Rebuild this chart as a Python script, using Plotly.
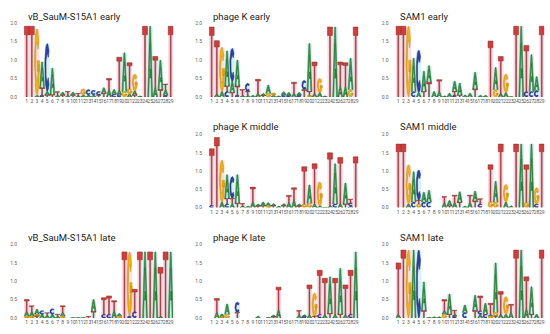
import math
import plotly.graph_objects as go

# ---------------- data (letter heights in bits, per position 1..29) ----------------
positions = list(range(1, 30))
y_ticks = [0.0, 0.5, 1.0, 1.5, 2.0]
y_tick_labels = ["0.0", "0.5", "1.0", "1.5", "2.0"]

titles = ["vB_SauM-S15A1 early", "phage K early", "SAM1 early",
          "phage K middle", "SAM1 middle",
          "vB_SauM-S15A1 late", "phage K late", "SAM1 late"]

vb_early = ["T1.92", "T1.92", "A.05 G1.8", "C.05 T.2 A.7", "T.05 A.1 C1.3", "T.06 A.72",
            "A.06 T.08", "T.05 A.08", "A.05 T.1", "T.05 A.08", "A.04 T.06",
            "A.06 G.16", "A.06 C.14", "A.06 C.12", "T.05 C.1",
            "T.1 A.15", "A.2 T.3", "C.08 A.12", "C.06 A.12 T.9", "G.15 A1.05",
            "A.08 G.15 T.7", "T.05 A.12 G.45", "A.03", "T1.92", "A1.92",
            "A.25 T.85", "T.2 A.8", "C.05 A.15 T.15", "T1.92"]

pk_early = ["T1.9", "A.08 T1.45", "A.15 G1.2", "C.15 T.15 A.95", "T.12 A.3 C.9", "C.05 T.25 A.7",
            "A.05 T.15", "A.05 T.1 C.22", "A.05", "A.1 T.38", "T.04 A.06",
            "G.1 A.22", "A.05 G.06", "A.03", "C.06 A.08",
            "C.04 A.08", "A.1 T.3", "C.05 A.07", "T.2 C.25", "G.05 T.1 A1.3",
            "A.1 T.85", "A.12 G.38", "A.03", "T1.9", "A1.9",
            "A.3 T.65", "A.28 T.65", "G.2 A.85", "T1.9"]

sam_early = ["T1.92", "T1.92", "G1.92", "C.15 A.9", "A.12 C1.15", "T.15 A.55",
             "T.4 A.45", "A.15", "A.15 T.32", "A.03", "A.1",
             "C.05 T.1 A.28", "T.05 A.32", "A.06", "A.1",
             "T.22 A.45", "A.05", "A.05", "T1.52", "G.2 A.6",
             "A.1 T1.0", "A.12 G.5", "A.01", "T1.92", "A1.92",
             "C.15 T1.25", "C.15 A1.0", "C.18 A.37", "T1.92"]

pk_mid = ["C.06 T1.55", "T1.92", "A.15 G1.15", "C.1 T.15 A.65", "A.1 T.15 C.6", "T.12 A.78",
          "A.05 T.06", "A.04", "A.15 T.41", "T.04 A.06", "T.05 A.1",
          "G.05 A.08", "T.05 A.06", "A.04", "T.05 A.06",
          "A.13 T.2", "A.2 T.34", "T.04 A.06", "G.1 T1.02", "G.12 A.5",
          "A.1 T1.1", "A.05 G.65", "A.01", "A.05 T1.45", "C.1 A1.1",
          "A.1 T1.27", "T.1 A.57", "A.05 C.08 T.1", "T1.39"]

sam_mid = ["T1.74", "T1.74", "A.1 G1.07", "C.15 A.83", "G.1 T.1 C.83", "C.15 A.27",
           "C.15 A.32", "", "", "A.14 T.16", "T.05 A.14",
           "A.14 T.2", "T.15 A.28", "A.04", "A.14 T.2",
           "T.18 A.27", "C.1 T.14", "", "G.17 T1.0", "G.15 A.57",
           "T1.74", "A.15 G.48", "A.05", "T1.74", "A1.74",
           "G.15 T1.02", "A1.74", "C.1 G.44", "T1.74"]

vb_late = ["G.05 A.13 T.32", "G.05 A.12 T.16", "T.05 G.05 A.14", "A.1 C.1", "A.07 T.07", "A.1 C.15",
           "A.05 T.05", "G.05 A.1 T.18", "", "A.01", "A.01",
           "A.01", "T.04", "T.18 A.32", "",
           "C.1 T.45", "C.1 T.5", "A.2 T.27", "G.05 A.07", "T1.8",
           "C.05 G1.75", "C.18 T.6", "T1.8", "A1.8", "T1.8",
           "A1.8", "A.05 T1.33", "T1.8", "A1.8"]

pk_late = ["", "A.15 T.38", "G.03 A.08", "G.1 A.28", "", "T.15 C.28",
           "", "", "", "A.05", "",
           "A.02", "T.03 A.05", "A.22 T.62", "",
           "", "", "A.08 T.12", "C.04 A.05", "A.08 T.82",
           "T.05 G.62", "C.1 T1.2", "A.08 T1.0", "T.12 A1.0", "A.08 T1.0",
           "T.1 A1.25", "A.08 T.82", "C.1 T1.2", "A1.8"]

sam_late = ["A.1 T1.4", "T1.85", "G1.85", "A1.85", "C1.85", "T.2 A.78",
            "A.02", "A.03", "A.03", "G.1 A.1 T.3", "T.1 A.55",
            "C.05 A.06 T.1", "", "C.15 A.2", "",
            "T.2 A.42", "A.1 C.1 T.4", "C.1 A.3", "G.05 A.05 T.3", "T.05 G.1 A1.35",
            "A.1 T.62", "A.1 G.48", "A.15 T.22", "T1.85", "A1.85",
            "A.25 T.87", "T.1 A.75", "A.1", "T1.85"]

panel_data = [vb_early, pk_early, sam_early, pk_mid, sam_mid, vb_late, pk_late, sam_late]
panel_cells = [(0, 0), (0, 1), (0, 2), (1, 1), (1, 2), (2, 0), (2, 1), (2, 2)]

# ---------------- styling ----------------
W, H = 550, 334
COL_PX = [(24.1, 173.3), (209.1, 358.3), (395.7, 544.3)]
ROW_PX = [(20.7, 95.7), (134.0, 208.3), (246.0, 320.7)]
TITLE_Y = [14, 126, 239]

FILL = {"A": "#35a04a", "C": "#2b3fb0", "G": "#f5b400", "T": "#d8393b"}
EDGE = {"A": "#1e6a2e", "C": "#1a2878", "G": "#c98600", "T": "#7a3327"}
SHADE = {"A": "#d6f2f1", "C": "#d6f2f1", "G": "#f9e0e0", "T": "#f9d9e7"}


def arc(cx, cy, rx, ry, a0, a1, n=24):
    return [(cx + rx * math.cos(math.radians(a0 + (a1 - a0) * i / n)),
             cy + ry * math.sin(math.radians(a0 + (a1 - a0) * i / n))) for i in range(n + 1)]


SHAPES = {
    "T": [[(0, 1), (1, 1), (1, 0.88), (0.59, 0.88), (0.59, 0), (0.41, 0), (0.41, 0.88), (0, 0.88)]],
    "A": [[(0, 0), (0.4, 1), (0.6, 1), (1, 0), (0.77, 0), (0.68, 0.27), (0.63, 0.40), (0.5, 0.76),
           (0.37, 0.40), (0.63, 0.40), (0.68, 0.27), (0.32, 0.27), (0.23, 0)]],
    "C": [arc(0.5, 0.5, 0.5, 0.5, 45, 315) + arc(0.5, 0.5, 0.28, 0.3, 315, 45)],
    "G": [arc(0.5, 0.5, 0.5, 0.5, 40, 355) + arc(0.5, 0.5, 0.28, 0.3, 355, 40),
          [(0.55, 0.36), (1.0, 0.36), (1.0, 0.52), (0.55, 0.52)]],
}


def parse(cell):
    out = []
    for tok in cell.split():
        out.append((tok[0], float(tok[1:])))
    return sorted(out, key=lambda t: t[1])


fig = go.Figure()
layout_axes = {}
annotations = []
GW = 0.96

for k, (data, (r, c)) in enumerate(zip(panel_data, panel_cells)):
    ax = "" if k == 0 else str(k + 1)
    xa, ya = "x" + ax, "y" + ax
    stacks = [parse(s) for s in data]
    totals = [sum(h for _, h in st) for st in stacks]
    dom = [max(st, key=lambda t: t[1])[0] if st else "A" for st in stacks]
    # shading behind each column
    fig.add_trace(go.Bar(x=positions, y=totals, width=1.0,
                         marker=dict(color=[SHADE[d] for d in dom], line=dict(width=0)),
                         xaxis=xa, yaxis=ya, hoverinfo="skip", showlegend=False))
    # letters
    polys = {L: ([], []) for L in "ACGT"}
    for pos, st in zip(positions, stacks):
        base = 0.0
        for L, h in st:
            for shp in SHAPES[L]:
                xs, ys = polys[L]
                for (u, v) in shp:
                    xs.append(pos - GW / 2 + u * GW)
                    ys.append(base + v * h)
                xs.append(shp[0][0] * GW + pos - GW / 2)
                ys.append(base + shp[0][1] * h)
                xs.append(None)
                ys.append(None)
            base += h
    for L in "ACGT":
        xs, ys = polys[L]
        if xs:
            fig.add_trace(go.Scatter(x=xs, y=ys, mode="lines", fill="toself",
                                     fillcolor=FILL[L], line=dict(color=EDGE[L], width=0.5),
                                     xaxis=xa, yaxis=ya, hoverinfo="skip", showlegend=False))
    x0, x1 = COL_PX[c]
    ytop, ybot = ROW_PX[r]
    layout_axes["xaxis" + ax] = dict(domain=[x0 / W, x1 / W], range=[0.5, 29.5], anchor=ya,
                                     tickmode="array", tickvals=positions,
                                     ticktext=[str(p) for p in positions], tickangle=0,
                                     tickfont=dict(size=5, color="#555", family="Roboto"),
                                     showgrid=False, zeroline=False, showline=False, ticks="",
                                     ticklabelstandoff=0, fixedrange=True)
    layout_axes["yaxis" + ax] = dict(domain=[1 - ybot / H, 1 - ytop / H], range=[0, 2.0], anchor=xa,
                                     tickmode="array", tickvals=y_ticks, ticktext=y_tick_labels,
                                     tickfont=dict(size=5, color="#666", family="Roboto"),
                                     showgrid=False, zeroline=False, showline=False, ticks="",
                                     ticklabelstandoff=6, fixedrange=True)
    annotations.append(dict(text=titles[k], x=(x0 + 1.8) / W, y=1 - TITLE_Y[r] / H,
                            xref="paper", yref="paper", xanchor="left", yanchor="middle",
                            showarrow=False, font=dict(size=9.5, color="#222", family="Roboto")))

fig.update_layout(width=W, height=H, margin=dict(l=0, r=0, t=0, b=0), autosize=False,
                  paper_bgcolor="white", plot_bgcolor="white", barmode="overlay",
                  annotations=annotations, showlegend=False, **layout_axes)

fig.write_html("out.html", config={"displayModeBar": False, "staticPlot": True},
               post_script="document.body.style.margin='0';document.body.style.padding='0';")
